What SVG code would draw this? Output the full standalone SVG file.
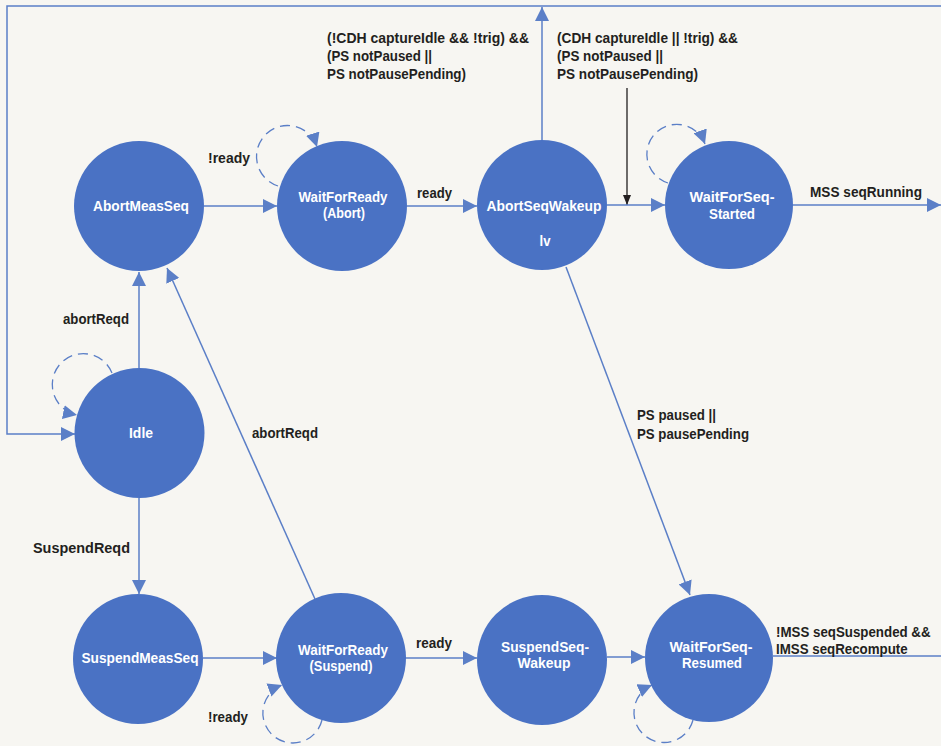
<svg xmlns="http://www.w3.org/2000/svg" width="941" height="746" viewBox="0 0 941 746">
  <style>
    .node { fill: #4a72c4; }
    .nl { fill: #ffffff; font-family: "Liberation Sans", Arial, sans-serif; font-weight: bold; font-size: 15.5px; text-anchor: middle; }
    .el { fill: #231f20; font-family: "Liberation Sans", Arial, sans-serif; font-weight: bold; font-size: 15.5px; }
    .edge { fill: none; stroke: #5b7fc7; stroke-width: 1.5; }
    .loop { fill: none; stroke: #5b7fc7; stroke-width: 1.3; stroke-dasharray: 10 6; }
    .black { fill: none; stroke: #231f20; stroke-width: 1.3; }
  </style>
  <defs>
    <marker id="ah" viewBox="0 0 14 14" refX="14" refY="7" markerWidth="14" markerHeight="14" markerUnits="userSpaceOnUse" orient="auto">
      <path d="M0,0 L14,7 L0,14 z" fill="#5b7fc7"/>
    </marker>
    <marker id="ahk" viewBox="0 0 10 8" refX="10" refY="4" markerWidth="10" markerHeight="8" markerUnits="userSpaceOnUse" orient="auto">
      <path d="M0,0 L10,4 L0,8 z" fill="#231f20"/>
    </marker>
  </defs>
  <rect width="941" height="746" fill="#f7f6f2"/>

  <g id="connectors">
    <!-- outer return path over the top and down the left side to Idle -->
    <path class="edge" d="M941,6 L7,6 L7,434 L75,434" marker-end="url(#ah)"/>
    <path class="edge" d="M542,140 L542,7" marker-end="url(#ah)"/>
    <path class="black" d="M627,88 L627,205" marker-end="url(#ahk)"/>
    <!-- top row -->
    <path class="edge" d="M204,206 L277,206" marker-end="url(#ah)"/>
    <path class="edge" d="M407,206 L477,206" marker-end="url(#ah)"/>
    <path class="edge" d="M607,205 L665,205" marker-end="url(#ah)"/>
    <path class="edge" d="M793,205 L941,205" marker-end="url(#ah)"/>
    <!-- verticals on the left -->
    <path class="edge" d="M139,368 L139,272" marker-end="url(#ah)"/>
    <path class="edge" d="M139,498 L139,594" marker-end="url(#ah)"/>
    <!-- diagonals -->
    <path class="edge" d="M315,599 L167,268" marker-end="url(#ah)"/>
    <path class="edge" d="M566,267 L690,595" marker-end="url(#ah)"/>
    <!-- bottom row -->
    <path class="edge" d="M203,658 L277,658" marker-end="url(#ah)"/>
    <path class="edge" d="M405,658 L477,658" marker-end="url(#ah)"/>
    <path class="edge" d="M607,657 L645,657" marker-end="url(#ah)"/>
    <path class="edge" d="M773,656 L941,656"/>
    <!-- self loops -->
    <path class="loop" d="M278,186 A31,31 0 1 1 317,147" marker-end="url(#ah)"/>
    <path class="loop" d="M668,183 A30,30 0 1 1 705,144" marker-end="url(#ah)"/>
    <path class="loop" d="M112,373 A31,31 0 1 0 77,415" marker-end="url(#ah)"/>
    <path class="loop" d="M322,720 A30,30 0 1 1 282,685" marker-end="url(#ah)"/>
    <path class="loop" d="M693,720 A30,30 0 1 1 652,685" marker-end="url(#ah)"/>

    <!-- transition labels -->
    <text class="el" x="327" y="43" textLength="202" lengthAdjust="spacingAndGlyphs">(!CDH captureIdle &amp;&amp; !trig) &amp;&amp;</text>
    <text class="el" x="327" y="61" textLength="105" lengthAdjust="spacingAndGlyphs">(PS notPaused ||</text>
    <text class="el" x="327" y="79" textLength="139" lengthAdjust="spacingAndGlyphs">PS notPausePending)</text>
    <text class="el" x="557" y="43" textLength="181" lengthAdjust="spacingAndGlyphs">(CDH captureIdle || !trig) &amp;&amp;</text>
    <text class="el" x="557" y="61" textLength="106" lengthAdjust="spacingAndGlyphs">(PS notPaused ||</text>
    <text class="el" x="557" y="79" textLength="141" lengthAdjust="spacingAndGlyphs">PS notPausePending)</text>
    <text class="el" x="208" y="163" textLength="42" lengthAdjust="spacingAndGlyphs">!ready</text>
    <text class="el" x="417" y="198" textLength="35" lengthAdjust="spacingAndGlyphs">ready</text>
    <text class="el" x="810" y="197" textLength="112" lengthAdjust="spacingAndGlyphs">MSS seqRunning</text>
    <text class="el" x="63" y="324" textLength="66" lengthAdjust="spacingAndGlyphs">abortReqd</text>
    <text class="el" x="252" y="438" textLength="66" lengthAdjust="spacingAndGlyphs">abortReqd</text>
    <text class="el" x="637" y="420" textLength="79" lengthAdjust="spacingAndGlyphs">PS paused ||</text>
    <text class="el" x="637" y="439" textLength="112" lengthAdjust="spacingAndGlyphs">PS pausePending</text>
    <text class="el" x="33" y="553" textLength="97" lengthAdjust="spacingAndGlyphs">SuspendReqd</text>
    <text class="el" x="416" y="648" textLength="36" lengthAdjust="spacingAndGlyphs">ready</text>
    <text class="el" x="208" y="722" textLength="40" lengthAdjust="spacingAndGlyphs">!ready</text>
    <text class="el" transform="translate(776,637) scale(0.86,1)" x="0" y="0">!MSS seqSuspended &amp;&amp;</text>
    <text class="el" transform="translate(776,654) scale(0.86,1)" x="0" y="0">IMSS seqRecompute</text>
  </g>

  <g id="AbortMeasSeq">
    <circle class="node" cx="139" cy="206" r="65"/>
    <text class="nl" x="141" y="211" textLength="96" lengthAdjust="spacingAndGlyphs">AbortMeasSeq</text>
  </g>
  <g id="WaitForReadyAbort">
    <circle class="node" cx="342" cy="206" r="65"/>
    <text class="nl" x="343" y="202" textLength="89" lengthAdjust="spacingAndGlyphs">WaitForReady</text>
    <text class="nl" x="344" y="218" textLength="42" lengthAdjust="spacingAndGlyphs">(Abort)</text>
  </g>
  <g id="AbortSeqWakeup">
    <circle class="node" cx="542" cy="205" r="65"/>
    <text class="nl" x="544" y="211" textLength="115" lengthAdjust="spacingAndGlyphs">AbortSeqWakeup</text>
    <text class="nl" x="545" y="246" textLength="11" lengthAdjust="spacingAndGlyphs">lv</text>
  </g>
  <g id="WaitForSeqStarted">
    <circle class="node" cx="729" cy="205" r="64"/>
    <text class="nl" x="732" y="202" textLength="85" lengthAdjust="spacingAndGlyphs">WaitForSeq-</text>
    <text class="nl" x="732" y="219" textLength="46" lengthAdjust="spacingAndGlyphs">Started</text>
  </g>
  <g id="Idle">
    <circle class="node" cx="139.5" cy="433" r="65"/>
    <text class="nl" x="141" y="438" textLength="24" lengthAdjust="spacingAndGlyphs">Idle</text>
  </g>
  <g id="SuspendMeasSeq">
    <circle class="node" cx="138" cy="659" r="65"/>
    <text class="nl" x="140" y="663" textLength="117" lengthAdjust="spacingAndGlyphs">SuspendMeasSeq</text>
  </g>
  <g id="WaitForReadySuspend">
    <circle class="node" cx="341" cy="658" r="65"/>
    <text class="nl" x="343" y="655" textLength="90" lengthAdjust="spacingAndGlyphs">WaitForReady</text>
    <text class="nl" x="341" y="671" textLength="63" lengthAdjust="spacingAndGlyphs">(Suspend)</text>
  </g>
  <g id="SuspendSeqWakeup">
    <circle class="node" cx="542" cy="660" r="65"/>
    <text class="nl" x="545" y="652" textLength="88" lengthAdjust="spacingAndGlyphs">SuspendSeq-</text>
    <text class="nl" x="544" y="668" textLength="53" lengthAdjust="spacingAndGlyphs">Wakeup</text>
  </g>
  <g id="WaitForSeqResumed">
    <circle class="node" cx="709" cy="658" r="64"/>
    <text class="nl" x="711" y="652" textLength="83" lengthAdjust="spacingAndGlyphs">WaitForSeq-</text>
    <text class="nl" x="712" y="668" textLength="60" lengthAdjust="spacingAndGlyphs">Resumed</text>
  </g>
</svg>
